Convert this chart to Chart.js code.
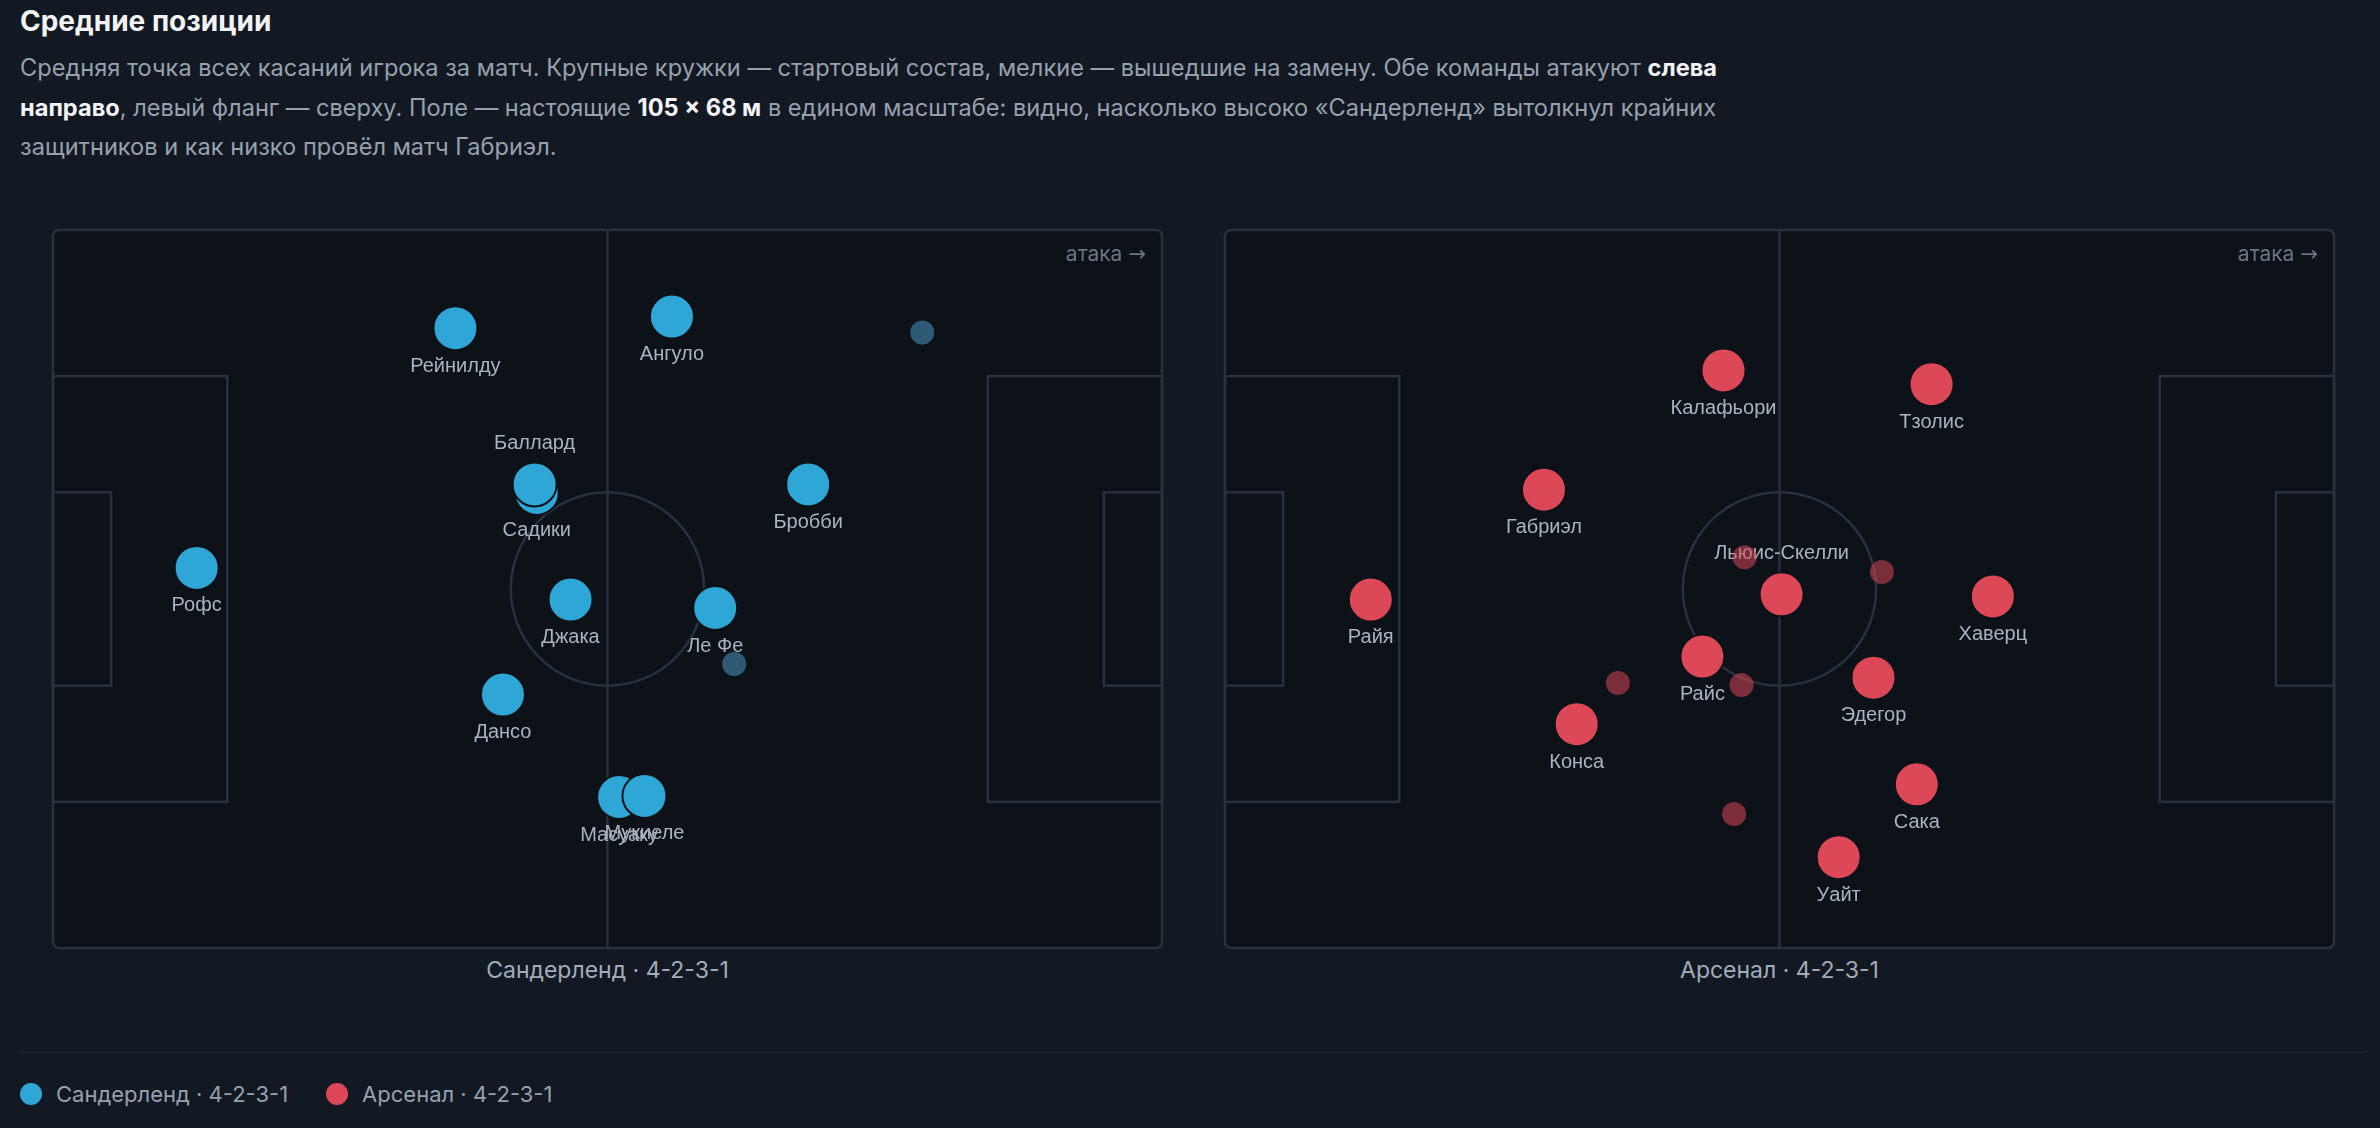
<!DOCTYPE html>
<html lang="ru">
<head>
    <meta charset="UTF-8">
    <title>Средние позиции</title>
    <script src="https://cdn.jsdelivr.net/npm/chart.js"></script>
    <style>
        html, body { margin: 0; padding: 0; }
        body {
            width: 2380px; height: 1128px; position: relative; overflow: hidden;
            background: #121923; font-family: Inter, "Liberation Sans", Arial, sans-serif;
        }
        #title {
            position: absolute; left: 20px; top: 5px; margin: 0;
            font-size: 28px; line-height: 32px; font-weight: bold; color: #f1f3f6;
        }
        #desc {
            position: absolute; left: 20px; top: 48px; margin: 0;
            font-size: 23.6px; line-height: 39.5px; color: #97a1ae;
        }
        #desc b { color: #f1f3f6; }
        .pitch { position: absolute; top: 226px; width: 1117px; height: 726px; }
        .cap {
            position: absolute; top: 956px; width: 1109px; text-align: center;
            font-size: 23px; line-height: 28px; color: #a3adba;
        }
        #rule { position: absolute; left: 20px; width: 2345px; top: 1052px; height: 1px; background: #222a35; }
        #legend { position: absolute; left: 20px; top: 1080px; height: 28px; display: flex; align-items: center; }
        .item { display: flex; align-items: center; margin-right: 38px; font-size: 22px; color: #97a1ae; }
        .dot { width: 22px; height: 22px; border-radius: 50%; margin-right: 14px; }
    </style>
</head>
<body>
    <h1 id="title">Средние позиции</h1>
    <p id="desc">Средняя точка всех касаний игрока за матч. Крупные кружки — стартовый состав, мелкие — вышедшие на замену. Обе команды атакуют <b>слева</b><br><b>направо</b>, левый фланг — сверху. Поле — настоящие <b>105 × 68 м</b> в едином масштабе: видно, насколько высоко «Сандерленд» вытолкнул крайних<br>защитников и как низко провёл матч Габриэл.</p>

    <div class="pitch" style="left:49px"><canvas id="chartL"></canvas></div>
    <div class="pitch" style="left:1221px"><canvas id="chartR"></canvas></div>
    <div class="cap" id="capL" style="left:53px"></div>
    <div class="cap" id="capR" style="left:1225px"></div>
    <div id="rule"></div>
    <div id="legend"></div>

    <script>
        // команды
        const teams = ['Сандерленд', 'Арсенал'];
        const formations = ['4-2-3-1', '4-2-3-1'];
        const teamColors = ['#2ea7d7', '#dd4858'];
        const subColors = ['rgba(70, 140, 180, 0.6)', 'rgba(221, 72, 88, 0.53)'];

        // Сандерленд: средние точки (м), x — вдоль поля, y — от левого фланга
        const sunNames = ['Рофс', 'Рейнилду', 'Садики', 'Баллард', 'Дансо', 'Масуаку', 'Мукиеле', 'Джака', 'Ангуло', 'Ле Фе', 'Бробби'];
        const sunX = [13.6, 38.1, 45.8, 45.6, 42.6, 53.6, 56.0, 49.0, 58.6, 62.7, 71.5];
        const sunY = [32.0, 9.3, 24.9, 24.1, 44.0, 53.7, 53.6, 35.0, 8.2, 35.8, 24.1];
        const sunSubX = [82.3, 64.5];
        const sunSubY = [9.7, 41.1];

        // Арсенал
        const arsNames = ['Райя', 'Габриэл', 'Калафьори', 'Конса', 'Уайт', 'Райс', 'Льюис-Скелли', 'Эдегор', 'Тзолис', 'Хаверц', 'Сака'];
        const arsX = [13.8, 30.2, 47.2, 33.3, 58.1, 45.2, 52.7, 61.4, 66.9, 72.7, 65.5];
        const arsY = [35.0, 24.6, 13.3, 46.8, 59.4, 40.4, 34.5, 42.4, 14.6, 34.7, 52.5];
        const arsSubX = [49.2, 62.2, 37.2, 48.9, 48.2];
        const arsSubY = [31.0, 32.4, 42.9, 43.1, 55.3];

        const PITCH_BG = '#0d1118';
        const LINE = '#28313d';
        const LABEL = '#aab3c0';
        const LABEL_FONT = '20px "Liberation Sans", Arial, sans-serif';

        function toPoints(xs, ys, names) {
            return xs.map((x, i) => ({ x: x, y: ys[i], name: names ? names[i] : null }));
        }

        // разметка поля через шкалы графика
        const pitchPlugin = {
            id: 'pitch',
            beforeDatasetsDraw(chart) {
                const { ctx, chartArea: a, scales: { x, y } } = chart;
                const px = v => x.getPixelForValue(v);
                const py = v => y.getPixelForValue(v);
                ctx.save();
                ctx.fillStyle = PITCH_BG;
                ctx.strokeStyle = LINE;
                ctx.lineWidth = 2.5;
                ctx.beginPath();
                ctx.roundRect(a.left, a.top, a.right - a.left, a.bottom - a.top, 6);
                ctx.fill();
                ctx.stroke();

                ctx.beginPath();
                ctx.moveTo(px(52.5), py(0));
                ctx.lineTo(px(52.5), py(68));
                ctx.stroke();

                ctx.beginPath();
                ctx.arc(px(52.5), py(34), px(52.5 + 9.15) - px(52.5), 0, Math.PI * 2);
                ctx.stroke();

                // штрафные и вратарские
                [[16.5, 20.16], [5.5, 9.16]].forEach(([d, h]) => {
                    ctx.strokeRect(px(0), py(34 - h), px(d) - px(0), py(34 + h) - py(34 - h));
                    ctx.strokeRect(px(105 - d), py(34 - h), px(105) - px(105 - d), py(34 + h) - py(34 - h));
                });

                // направление атаки
                ctx.fillStyle = '#6b7685';
                ctx.textAlign = 'right';
                ctx.textBaseline = 'middle';
                ctx.font = '21px "DejaVu Sans", sans-serif';
                const arrowRight = a.right - 16;
                ctx.fillText('→', arrowRight, a.top + 26);
                const aw = ctx.measureText('→').width;
                ctx.font = '21px Inter, sans-serif';
                ctx.fillText('атака', arrowRight - aw - 6, a.top + 25);
                ctx.restore();
            }
        };

        // подписи игроков: под кружком, либо над ним, если снизу мешает другой кружок
        const labelPlugin = {
            id: 'labels',
            afterDatasetDraw(chart, args) {
                if (args.index !== 1) return;
                const ctx = chart.ctx;
                const meta = args.meta;
                const pts = chart.data.datasets[1].data;
                const r = 22;
                ctx.save();
                ctx.font = LABEL_FONT;
                ctx.fillStyle = LABEL;
                ctx.textAlign = 'center';
                ctx.textBaseline = 'middle';
                meta.data.forEach((el, i) => {
                    const w = ctx.measureText(pts[i].name).width;
                    const bx0 = el.x - w / 2 - 4, bx1 = el.x + w / 2 + 4;
                    const by0 = el.y + 38 - 14, by1 = el.y + 38 + 14;
                    let hit = false;
                    meta.data.forEach((o, j) => {
                        if (j === i) return;
                        const cx = Math.max(bx0, Math.min(o.x, bx1));
                        const cy = Math.max(by0, Math.min(o.y, by1));
                        if (Math.hypot(o.x - cx, o.y - cy) < r) hit = true;
                    });
                    ctx.fillText(pts[i].name, el.x, hit ? el.y - 41 : el.y + 38);
                });
                ctx.restore();
            }
        };

        function drawPitch(canvasId, team) {
            const starters = team === 0 ? toPoints(sunX, sunY, sunNames) : toPoints(arsX, arsY, arsNames);
            const subs = team === 0 ? toPoints(sunSubX, sunSubY) : toPoints(arsSubX, arsSubY);
            const ctx = document.getElementById(canvasId).getContext('2d');
            return new Chart(ctx, {
                type: 'scatter',
                data: {
                    datasets: [{
                        label: 'замены',
                        data: subs,
                        pointRadius: 12,
                        pointHoverRadius: 12,
                        backgroundColor: subColors[team],
                        borderWidth: 0
                    }, {
                        label: teams[team],
                        data: starters,
                        pointRadius: 22,
                        pointHoverRadius: 22,
                        backgroundColor: teamColors[team],
                        borderColor: PITCH_BG,
                        borderWidth: 2
                    }]
                },
                options: {
                    responsive: true,
                    maintainAspectRatio: false,
                    animation: false,
                    events: [],
                    layout: { padding: 4, autoPadding: false },
                    scales: {
                        x: { type: 'linear', min: 0, max: 105, display: false },
                        y: { type: 'linear', min: 0, max: 68, reverse: true, display: false }
                    },
                    plugins: { legend: { display: false }, tooltip: { enabled: false } }
                },
                plugins: [pitchPlugin, labelPlugin]
            });
        }

        drawPitch('chartL', 0);
        drawPitch('chartR', 1);

        document.getElementById('capL').textContent = teams[0] + ' · ' + formations[0];
        document.getElementById('capR').textContent = teams[1] + ' · ' + formations[1];

        const legend = document.getElementById('legend');
        teams.forEach((t, i) => {
            const item = document.createElement('div');
            item.className = 'item';
            item.innerHTML = '<span class="dot" style="background:' + teamColors[i] + '"></span>' + t + ' · ' + formations[i];
            legend.appendChild(item);
        });
    </script>
</body>
</html>
